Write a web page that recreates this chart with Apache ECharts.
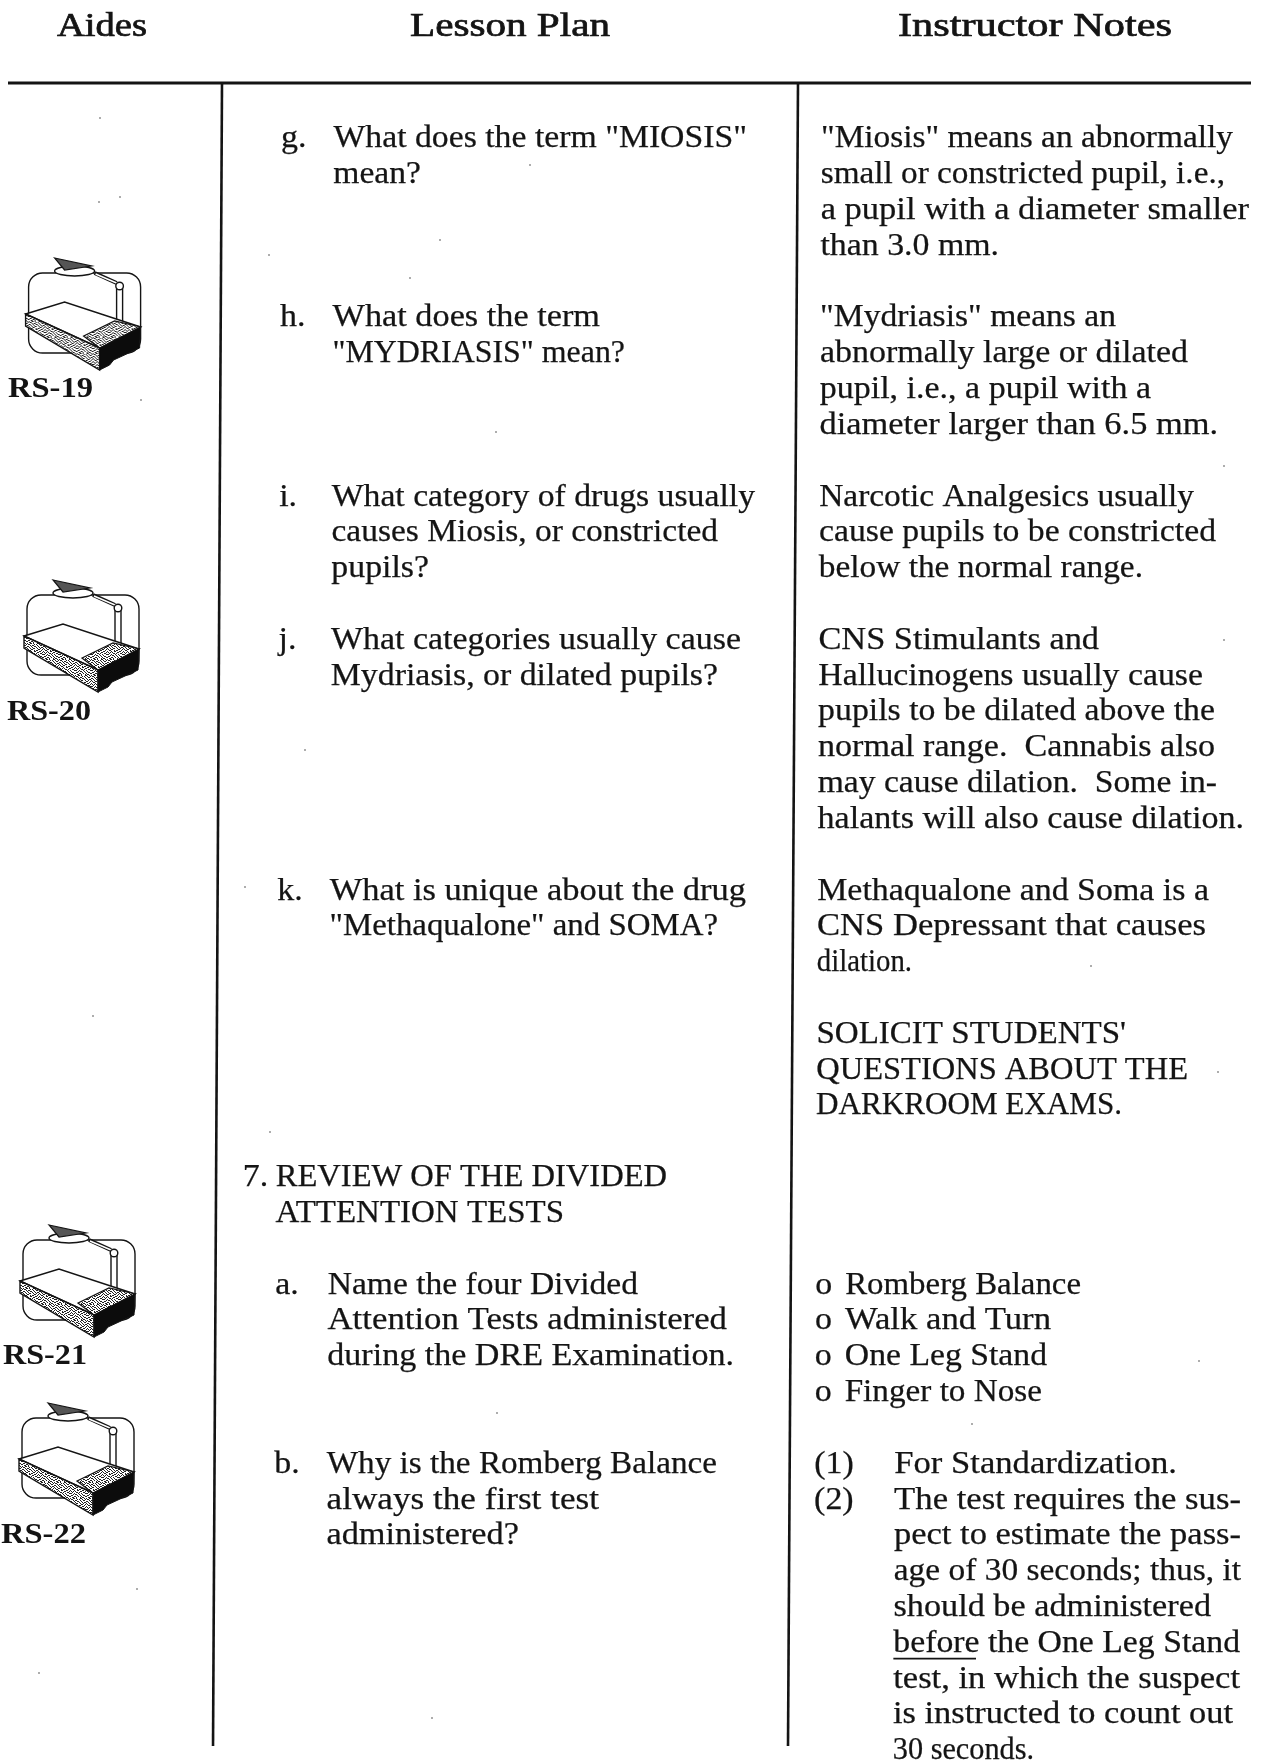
<!DOCTYPE html>
<html>
<head>
<meta charset="utf-8">
<title>Lesson plan page</title>
<script src="https://cdn.jsdelivr.net/npm/echarts@6/dist/echarts.min.js"></script>
<style>
  html, body { margin: 0; padding: 0; background: #fff; }
  #page { width: 1261px; height: 1761px; }
</style>
</head>
<body>
<div id="page"></div>
<script>
// page text, one entry per ruled row of the page ("" = blank row)
var headers = ["Aides", "Lesson Plan", "Instructor Notes"];
var aideLabels = ["RS-19", "RS-20", "RS-21", "RS-22"];

var lessonMarkers = [
  "g.", "", "", "", "", "h.", "", "", "", "", "i.", "", "", "", "j.", "", "", "", "", "", "",
  "k.", "", "", "", "", "", "", "", "", "", "", "a.", "", "", "", "", "b."
];
var lessonLines = [
  'What does the term "MIOSIS"', "mean?", "", "", "",
  "What does the term", '"MYDRIASIS" mean?', "", "", "",
  "What category of drugs usually", "causes Miosis, or constricted", "pupils?", "",
  "What categories usually cause", "Mydriasis, or dilated pupils?", "", "", "", "", "",
  "What is unique about the drug", '"Methaqualone" and SOMA?', "", "", "", "", "", "", "", "", "",
  "Name the four Divided", "Attention Tests administered", "during the DRE Examination.", "", "",
  "Why is the Romberg Balance", "always the first test", "administered?"
];
var sectionNumber = "7.";
var sectionLines = ["REVIEW OF THE DIVIDED", "ATTENTION TESTS"];

var noteLines = [
  '"Miosis" means an abnormally', "small or constricted pupil, i.e.,", "a pupil with a diameter smaller", "than 3.0 mm.", "",
  '"Mydriasis" means an', "abnormally large or dilated", "pupil, i.e., a pupil with a", "diameter larger than 6.5 mm.", "",
  "Narcotic Analgesics usually", "cause pupils to be constricted", "below the normal range.", "",
  "CNS Stimulants and", "Hallucinogens usually cause", "pupils to be dilated above the", "normal range.  Cannabis also", "may cause dilation.  Some in-", "halants will also cause dilation.", "",
  "Methaqualone and Soma is a", "CNS Depressant that causes", "dilation.", "",
  "SOLICIT STUDENTS'", "QUESTIONS ABOUT THE", "DARKROOM EXAMS."
];
var noteBullets = ["Romberg Balance", "Walk and Turn", "One Leg Stand", "Finger to Nose"];
var noteItemMarkers = ["(1)", "(2)"];
var noteItemLines = [
  "For Standardization.", "The test requires the sus-", "pect to estimate the pass-", "age of 30 seconds; thus, it",
  "should be administered", "before the One Leg Stand", "test, in which the suspect", "is instructed to count out", "30 seconds."
];

// scan dust
var speckX = [100, 120, 269, 440, 410, 530, 496, 141, 305, 245, 93, 270, 497, 972, 432, 1224, 1224, 1199, 1218, 1091, 99, 39, 137];
var speckY = [118, 197, 255, 240, 278, 165, 432, 400, 750, 887, 1016, 1132, 1413, 1424, 1718, 466, 640, 1361, 1072, 966, 202, 1673, 1589];

// layout of the scanned page (px), the scan leans slightly so x drifts per row
var rowTop = 139.2, rowStep = 35.82, lean = -0.182;
var sectionRow = 29, bulletRow = 32, itemRow = 37;
var bodyFont = { fontFamily: "Liberation Serif", fontSize: 31, fontWeight: "normal", sx: 1.095, ink: 0.25 };
var headFont = { fontFamily: "Liberation Serif", fontSize: 33, fontWeight: "normal", sx: 1.22, ink: 0.7 };
var aideFont = { fontFamily: "Liberation Serif", fontSize: 30, fontWeight: "bold", sx: 1.1, ink: 0 };
var headerX = [102, 510, 1035];
var aidePos = [[28.6, 273, 8, 389], [27, 595, 7, 712], [23, 1240, 3, 1356], [22, 1418, 1, 1535]];
var INK = "#141414";

// right edge of each line on the page, so the substitute font fills the same measure
var rightEdge = {
  "Aides": 147, "Lesson Plan": 610, "Instructor Notes": 1172,
  "RS-19": 93, "RS-20": 91, "RS-21": 87, "RS-22": 86,
  'What does the term "MIOSIS"': 747, "mean?": 421, "What does the term": 600, '"MYDRIASIS" mean?': 625,
  "What category of drugs usually": 755, "causes Miosis, or constricted": 718, "pupils?": 429,
  "What categories usually cause": 741, "Mydriasis, or dilated pupils?": 718,
  "What is unique about the drug": 746, '"Methaqualone" and SOMA?': 718,
  "Name the four Divided": 638, "Attention Tests administered": 727, "during the DRE Examination.": 734,
  "Why is the Romberg Balance": 717, "always the first test": 599, "administered?": 519,
  "REVIEW OF THE DIVIDED": 667, "ATTENTION TESTS": 564,
  '"Miosis" means an abnormally': 1233, "small or constricted pupil, i.e.,": 1225, "a pupil with a diameter smaller": 1249, "than 3.0 mm.": 999,
  '"Mydriasis" means an': 1116, "abnormally large or dilated": 1188, "pupil, i.e., a pupil with a": 1151, "diameter larger than 6.5 mm.": 1218,
  "Narcotic Analgesics usually": 1194, "cause pupils to be constricted": 1216, "below the normal range.": 1143,
  "CNS Stimulants and": 1099, "Hallucinogens usually cause": 1203, "pupils to be dilated above the": 1215,
  "normal range.  Cannabis also": 1215, "may cause dilation.  Some in-": 1217, "halants will also cause dilation.": 1244,
  "Methaqualone and Soma is a": 1209, "CNS Depressant that causes": 1206, "dilation.": 912,
  "SOLICIT STUDENTS'": 1126, "QUESTIONS ABOUT THE": 1188, "DARKROOM EXAMS.": 1122,
  "Romberg Balance": 1081, "Walk and Turn": 1051, "One Leg Stand": 1047, "Finger to Nose": 1042,
  "For Standardization.": 1177, "The test requires the sus-": 1241, "pect to estimate the pass-": 1241, "age of 30 seconds; thus, it": 1241,
  "should be administered": 1211, "before the One Leg Stand": 1240, "test, in which the suspect": 1240, "is instructed to count out": 1233, "30 seconds.": 1034
};
var underlineEnd = 976;

var measure = document.createElement("canvas").getContext("2d");
function fitScale(text, x, font, align) {
  var right = rightEdge[text];
  if (!right) return font.sx;
  measure.font = font.fontWeight + " " + font.fontSize + "px '" + font.fontFamily + "'";
  var w = measure.measureText(text).width;
  return (align === "center" ? 2 * (right - x) : right - x) / w;
}

var items = [];
function rowY(r) { return rowTop + rowStep * r; }
function rowX(x0, r) { return x0 + lean * r; }
function put(text, x, y, font, align) {
  if (text) items.push({ value: [x, y], text: text, font: font, align: align || "left", sx: fitScale(text, x, font, align) });
}

headers.forEach(function (h, i) { put(h, headerX[i], 27, headFont, "center"); });
aideLabels.forEach(function (t, i) { put(t, aidePos[i][2], aidePos[i][3], aideFont); });
lessonMarkers.forEach(function (t, r) { put(t, rowX(281, r), rowY(r), bodyFont); });
lessonLines.forEach(function (t, r) { put(t, rowX(333.5, r), rowY(r), bodyFont); });
put(sectionNumber, rowX(248, sectionRow), rowY(sectionRow), bodyFont);
sectionLines.forEach(function (t, i) { put(t, rowX(281, sectionRow + i), rowY(sectionRow + i), bodyFont); });
noteLines.forEach(function (t, r) { put(t, rowX(821, r), rowY(r), bodyFont); });
noteBullets.forEach(function (t, i) {
  var r = bulletRow + i;
  put("o", rowX(821, r), rowY(r), bodyFont);
  put(t, rowX(851, r), rowY(r), bodyFont);
});
noteItemMarkers.forEach(function (t, i) { put(t, rowX(821, itemRow + i), rowY(itemRow + i), bodyFont); });
noteItemLines.forEach(function (t, i) { put(t, rowX(901, itemRow + i), rowY(itemRow + i), bodyFont); });

// stipple tile for the projector faces
var stippleRows = [
  "1001101000110010", "0110000101001001", "0001011000100110", "1100100110010000",
  "0010010001001011", "1001001100100100", "0100110000011001", "0011000101100010",
  "1000100110001100", "0101010000110001", "0010001101000110", "1100100010010001",
  "0001011001001000", "0110000100100110", "1000110010010001", "0011001000101100"
];
function stipple() {
  var c = document.createElement("canvas");
  c.width = c.height = 16;
  var g = c.getContext("2d");
  g.fillStyle = "#fff"; g.fillRect(0, 0, 16, 16);
  g.fillStyle = "#222";
  stippleRows.forEach(function (row, y) {
    row.split("").forEach(function (b, x) { if (b === "1") g.fillRect(x, y, 1, 1); });
  });
  return { image: c, repeat: "repeat" };
}
var stippleFill = stipple();

function projector(ox, oy) {
  var line = { stroke: INK, lineWidth: 1.4, fill: null };
  var face = { stroke: INK, lineWidth: 1.4, fill: "#fff" };
  return {
    type: "group", x: ox, y: oy,
    children: [
      { type: "rect", shape: { x: 0, y: 0, width: 112, height: 80, r: 14 }, style: line },
      { type: "line", shape: { x1: 66, y1: 0, x2: 88, y2: 10 }, style: { stroke: INK, lineWidth: 4 } },
      { type: "line", shape: { x1: 67, y1: 1, x2: 88, y2: 10 }, style: { stroke: "#fff", lineWidth: 1.4 } },
      { type: "rect", shape: { x: 88, y: 15, width: 6, height: 34 }, style: face },
      { type: "circle", shape: { cx: 91, cy: 13, r: 3.8 }, style: face },
      { type: "ellipse", shape: { cx: 46, cy: -2, rx: 20, ry: 5 }, style: face },
      { type: "polygon", shape: { points: [[26, -15], [63, -7], [36, -3]] }, style: { stroke: INK, lineWidth: 1.2, fill: "#555" } },
      { type: "polygon", shape: { points: [[-3, 41], [36, 29], [112, 54], [71, 75]] }, style: face },
      { type: "polygon", shape: { points: [[-3, 41], [71, 75], [71, 97], [-3, 53]] }, style: { stroke: INK, lineWidth: 1.4, fill: stippleFill } },
      { type: "polygon", shape: { points: [[55, 63], [86, 48], [112, 54], [71, 75]] }, style: { stroke: INK, lineWidth: 1.2, fill: stippleFill } },
      { type: "polygon", shape: { points: [[71, 75], [112, 54], [111, 75], [85, 87], [81, 92], [71, 97]] }, style: { stroke: INK, lineWidth: 1, fill: "#0c0c0c" } }
    ]
  };
}

var chart = echarts.init(document.getElementById("page"), null, { renderer: "canvas" });

chart.setOption({
  animation: false,
  backgroundColor: "#fff",
  grid: { left: 0, right: 0, top: 0, bottom: 0 },
  xAxis: { type: "value", min: 0, max: 1261, show: false },
  yAxis: { type: "value", min: 0, max: 1761, inverse: true, show: false },
  series: [
    {
      // table rules
      type: "custom",
      coordinateSystem: "cartesian2d",
      silent: true,
      data: [[8, 83, 1251, 83, 3], [222, 83, 213, 1746, 2.6], [798, 83, 788, 1746, 2.6]],
      renderItem: function (params, api) {
        var a = api.coord([api.value(0), api.value(1)]);
        var b = api.coord([api.value(2), api.value(3)]);
        return {
          type: "line",
          shape: { x1: a[0], y1: a[1], x2: b[0], y2: b[1] },
          style: { stroke: INK, lineWidth: api.value(4) }
        };
      }
    },
    {
      type: "scatter",
      silent: true,
      symbolSize: 2,
      itemStyle: { color: "#777" },
      data: speckX.map(function (x, i) { return [x, speckY[i]]; })
    },
    {
      // overhead projector aides
      type: "custom",
      coordinateSystem: "cartesian2d",
      silent: true,
      data: aidePos.map(function (p) { return [p[0], p[1]]; }),
      renderItem: function (params, api) {
        var a = api.coord([api.value(0), api.value(1)]);
        return projector(a[0], a[1]);
      }
    },
    {
      // every line of text
      type: "custom",
      coordinateSystem: "cartesian2d",
      silent: true,
      data: items.map(function (d) { return d.value; }),
      renderItem: function (params, api) {
        var d = items[params.dataIndex];
        var a = api.coord([api.value(0), api.value(1)]);
        var children = [{
          type: "text",
          x: 0, y: 0,
          style: {
            text: d.text,
            fontFamily: d.font.fontFamily,
            fontSize: d.font.fontSize,
            fontWeight: d.font.fontWeight,
            fill: INK,
            stroke: d.font.ink ? INK : null,
            lineWidth: d.font.ink,
            align: d.align,
            verticalAlign: "middle"
          }
        }];
        // "before" is underlined in the notes column
        if (d.text.indexOf("before ") === 0) {
          children.push({
            type: "line",
            shape: { x1: 0, y1: 15, x2: (underlineEnd - d.value[0]) / d.sx, y2: 15 },
            style: { stroke: INK, lineWidth: 1.6 }
          });
        }
        return { type: "group", x: a[0], y: a[1], scaleX: d.sx, children: children };
      }
    }
  ]
});
</script>
</body>
</html>
